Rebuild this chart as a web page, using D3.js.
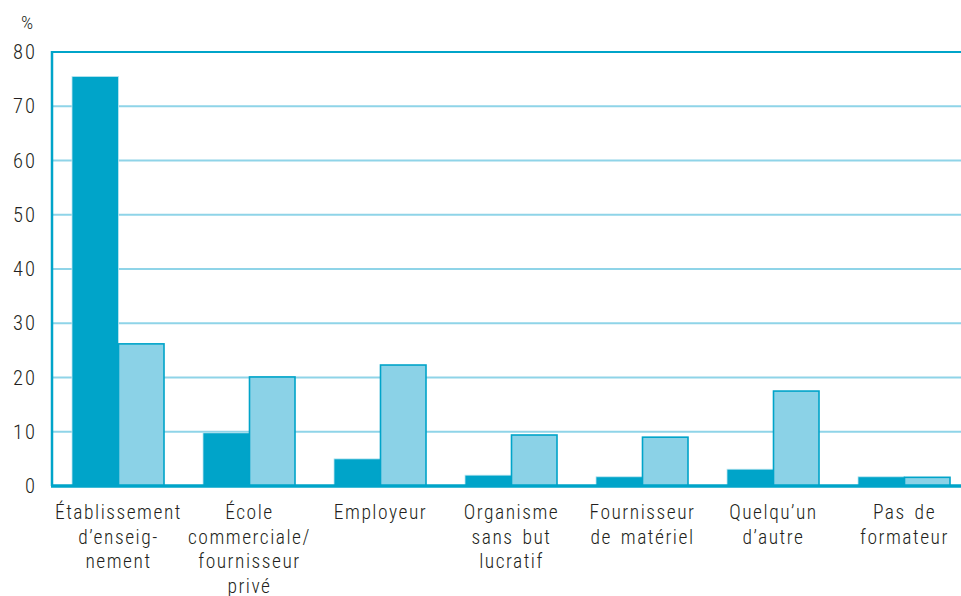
<!DOCTYPE html>
<html>
<head>
<meta charset="utf-8">
<script src="https://cdn.jsdelivr.net/npm/d3@7"></script>
<style>
body { margin: 0; background: #fff; }
text { font-family: "Roboto Condensed", sans-serif; font-weight: 300; fill: #231f20; }
</style>
</head>
<body>
<script>
// categories, each one split in the lines shown under the axis
var categories = ['etab', 'ecole', 'employeur', 'organisme', 'fournisseur', 'quelquun', 'pas'];
var labels = [
    ['Établissement', 'd\u2019enseig-', 'nement'],
    ['École', 'commerciale/', 'fournisseur', 'privé'],
    ['Employeur'],
    ['Organisme', 'sans but', 'lucratif'],
    ['Fournisseur', 'de matériel'],
    ['Quelqu\u2019un', 'd\u2019autre'],
    ['Pas de', 'formateur']
];
var serieDark = [75.5, 9.8, 5.0, 2.0, 1.7, 3.1, 1.7];
var serieLight = [26.2, 20.1, 22.3, 9.4, 9.0, 17.5, 1.6];
var ticks = [0, 10, 20, 30, 40, 50, 60, 70, 80];

var dark = '#00a4c9';
var light = '#8bd2e7';
var grid = '#8fd4e8';

var svg = d3.select('body').append('svg')
    .attr('width', 961)
    .attr('height', 596);

var y = d3.scaleLinear()
    .domain([0, 80])
    .range([486, 52]);

var x = d3.scaleBand()
    .domain(categories)
    .range([53, 970])
    .paddingInner(0.29)
    .paddingOuter(0.145);

var sub = d3.scaleBand()
    .domain(['dark', 'light'])
    .range([0, x.bandwidth()]);

// grid lines
svg.selectAll('.grid')
    .data(ticks.filter(function(d) { return d > 0 && d < 80; }))
    .enter().append('line')
    .attr('x1', 52)
    .attr('x2', 961)
    .attr('y1', function(d) { return y(d); })
    .attr('y2', function(d) { return y(d); })
    .attr('stroke', grid)
    .attr('stroke-width', 2);

// top border
svg.append('line')
    .attr('x1', 52)
    .attr('x2', 961)
    .attr('y1', y(80))
    .attr('y2', y(80))
    .attr('stroke', dark)
    .attr('stroke-width', 2);

// bars
svg.selectAll('.dark')
    .data(serieDark)
    .enter().append('rect')
    .attr('x', function(d, i) { return x(categories[i]) + sub('dark'); })
    .attr('y', function(d) { return y(d); })
    .attr('width', sub.bandwidth())
    .attr('height', function(d) { return y(0) - y(d); })
    .attr('fill', dark)
    .attr('stroke', '#bfe6f1')
    .attr('stroke-width', 0.8);

svg.selectAll('.light')
    .data(serieLight)
    .enter().append('rect')
    .attr('x', function(d, i) { return x(categories[i]) + sub('light'); })
    .attr('y', function(d) { return y(d); })
    .attr('width', sub.bandwidth() - 1)
    .attr('height', function(d) { return y(0) - y(d); })
    .attr('fill', light)
    .attr('stroke', dark)
    .attr('stroke-width', 1.6);

// left axis line and zero line
svg.append('line')
    .attr('x1', 52)
    .attr('x2', 52)
    .attr('y1', y(80) - 1)
    .attr('y2', y(0))
    .attr('stroke', dark)
    .attr('stroke-width', 2.5);

svg.append('line')
    .attr('x1', 51)
    .attr('x2', 961)
    .attr('y1', y(0))
    .attr('y2', y(0))
    .attr('stroke', dark)
    .attr('stroke-width', 3.5);

// y axis labels
var yAxis = d3.axisLeft(y).tickValues(ticks).tickSize(0).tickPadding(15);
var gy = svg.append('g')
    .attr('transform', 'translate(52,0)')
    .call(yAxis);
gy.select('.domain').remove();
gy.selectAll('text')
    .style('font-family', '"Roboto Condensed", sans-serif')
    .style('font-weight', 300)
    .style('font-size', '20.5px')
    .style('letter-spacing', '2px')
    .attr('fill', '#231f20');

svg.append('text')
    .attr('x', 27)
    .attr('y', 29)
    .attr('text-anchor', 'middle')
    .style('font-size', '19px')
    .text('%');

// x labels
svg.selectAll('.xlabel')
    .data(labels)
    .enter().append('text')
    .attr('text-anchor', 'middle')
    .style('font-size', '19.5px')
    .style('letter-spacing', '1.5px')
    .style('word-spacing', '3px')
    .each(function(lines, i) {
        var cx = x(categories[i]) + x.bandwidth() / 2;
        d3.select(this).selectAll('tspan')
            .data(lines)
            .enter().append('tspan')
            .attr('x', cx)
            .attr('y', function(d, j) { return 519 + j * 24.5; })
            .text(function(d) { return d; });
    });
</script>
</body>
</html>
